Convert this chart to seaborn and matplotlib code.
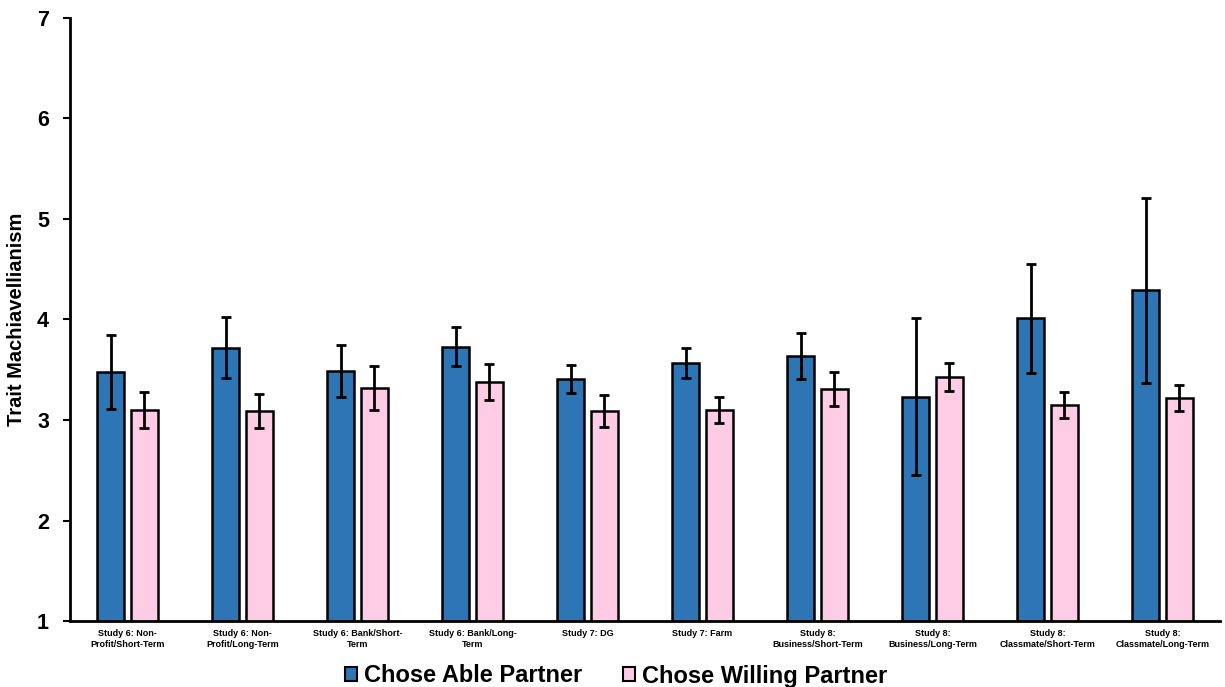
import numpy as np
import pandas as pd
import matplotlib
matplotlib.use("Agg")
import matplotlib.pyplot as plt
import seaborn as sns

categories = [
    "Study 6: Non-\nProfit/Short-Term",
    "Study 6: Non-\nProfit/Long-Term",
    "Study 6: Bank/Short-\nTerm",
    "Study 6: Bank/Long-\nTerm",
    "Study 7: DG",
    "Study 7: Farm",
    "Study 8:\nBusiness/Short-Term",
    "Study 8:\nBusiness/Long-Term",
    "Study 8:\nClassmate/Short-Term",
    "Study 8:\nClassmate/Long-Term",
]
series_names = ["Chose Able Partner", "Chose Willing Partner"]
able_means = [3.48, 3.72, 3.49, 3.73, 3.41, 3.57, 3.64, 3.23, 4.01, 4.29]
able_err = [0.37, 0.30, 0.26, 0.19, 0.14, 0.15, 0.23, 0.78, 0.54, 0.92]
willing_means = [3.10, 3.09, 3.32, 3.38, 3.09, 3.10, 3.31, 3.43, 3.15, 3.22]
willing_err = [0.18, 0.17, 0.22, 0.18, 0.16, 0.13, 0.17, 0.14, 0.13, 0.13]
yticks = [1, 2, 3, 4, 5, 6, 7]

df = pd.DataFrame({
    "category": categories * 2,
    "group": [series_names[0]] * len(categories) + [series_names[1]] * len(categories),
    "value": able_means + willing_means,
})
errs = able_err + willing_err

sns.set_style("ticks")
plt.rcParams["font.family"] = ["Liberation Sans", "DejaVu Sans"]
plt.rcParams["font.weight"] = "bold"
plt.rcParams["text.color"] = "black"
plt.rcParams["axes.labelcolor"] = "black"
plt.rcParams["xtick.color"] = "black"
plt.rcParams["ytick.color"] = "black"

fig = plt.figure(figsize=(12.25, 6.87), dpi=100)
ax = fig.add_axes([0.057, 0.096, 0.939, 0.878])

palette = {series_names[0]: "#2E75B6", series_names[1]: "#FFCCE6"}
sns.barplot(data=df, x="category", y="value", hue="group", order=categories,
            hue_order=series_names, palette=palette, width=0.58, gap=0.19,
            errorbar=None, edgecolor="black", linewidth=1.8, saturation=1,
            ax=ax)

bars = [p for p in ax.patches if p.get_height() > 0][:len(df)]
for p, e in zip(bars, errs):
    xc = p.get_x() + p.get_width() / 2
    ax.errorbar(xc, p.get_y() + p.get_height(), yerr=e, fmt="none",
                ecolor="black", elinewidth=2, capsize=3.5, capthick=2, zorder=5)

ax.set_ylim(1, 7)
ax.set_yticks(yticks)
ax.set_yticklabels([str(t) for t in yticks], fontsize=15.5, fontweight="bold",
                   color="black")
ax.set_xlim(-0.5, len(categories) - 0.5)
ax.tick_params(axis="x", length=0, labelsize=6.5, pad=6, colors="black")
for lab in ax.get_xticklabels():
    lab.set_fontweight("bold")
ax.tick_params(axis="y", length=5, width=1.5, direction="out", pad=10, colors="black")
ax.set_xlabel("")
ax.set_ylabel("Trait Machiavellianism", fontsize=14.5, fontweight="bold",
              labelpad=8, color="black")

for s in ["top", "right"]:
    ax.spines[s].set_visible(False)
for s in ["left", "bottom"]:
    ax.spines[s].set_linewidth(2)
    ax.spines[s].set_color("black")

handles, labels = ax.get_legend_handles_labels()
ax.legend_.remove()
leg = fig.legend(handles, labels, loc="center", bbox_to_anchor=(0.503, 1 - 676 / 687),
                 ncol=2, frameon=False, prop={"size": 17, "weight": "bold"},
                 handlelength=0.5, handleheight=0.5, handletextpad=0.3,
                 columnspacing=1.7, borderaxespad=0, borderpad=0)
for h in leg.legend_handles:
    h.set_edgecolor("black")
    h.set_linewidth(1.5)
for t in leg.get_texts():
    t.set_color("black")

fig.savefig("out.png", dpi=100)
